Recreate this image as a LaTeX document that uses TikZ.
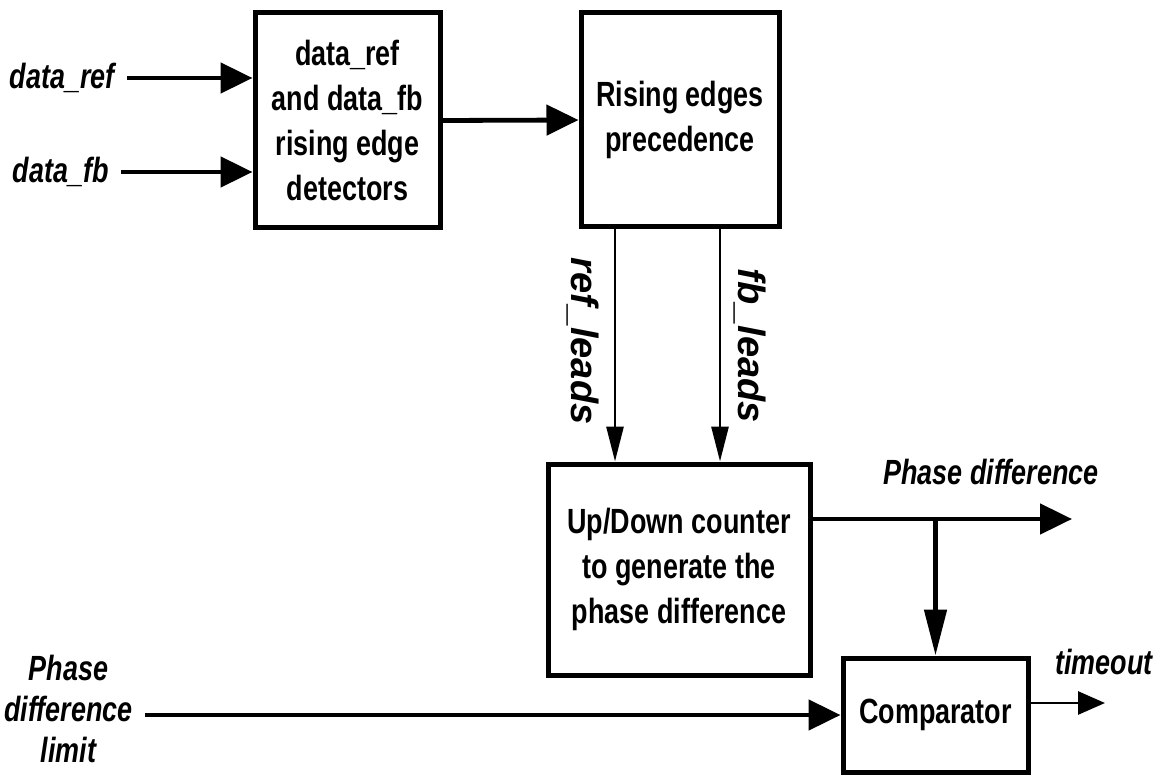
\documentclass[tikz,border=0pt]{standalone}
\usepackage{fontspec}
\setmainfont{Liberation Sans}[FakeStretch=0.77]
\newfontfamily\wideit{Liberation Sans}[FakeStretch=1.0]
\usetikzlibrary{arrows.meta}

\newcommand\blkfont{\fontsize{17.5pt}{22.5pt}\selectfont\bfseries}
\newcommand\lblfont{\fontsize{17.5pt}{20.5pt}\selectfont\bfseries\itshape}
\newcommand\flagfont{\wideit\fontsize{19pt}{22pt}\selectfont\bfseries\itshape}

\tikzset{
  blk/.style={draw, line width=2.5pt, align=center, font=\blkfont, inner sep=0pt},
  lbl/.style={font=\lblfont, align=center, inner sep=6pt},
  flag/.style={font=\flagfont, inner sep=0pt, rotate=-90},
  bus/.style={line width=2.4pt, -{Triangle[length=16pt,width=15pt]}},
  sig/.style={line width=1.4pt, -{Triangle[length=17.5pt,width=8.5pt]}},
  tap/.style={line width=2.4pt, -{Triangle[length=23pt,width=11pt]}},
  outsig/.style={line width=1.4pt, -{Triangle[length=13.5pt,width=11.5pt]}},
}

\begin{document}
\begin{tikzpicture}[x=0.5pt, y=-0.5pt]
  \useasboundingbox (0,0) rectangle (1166,775);

  % processing blocks
  \node[blk, minimum width=92.5pt, minimum height=107.5pt] (det) at (347.5,120.5)
    {data\_ref\\and data\_fb\\rising edge\\detectors};
  \node[blk, minimum width=99pt, minimum height=107pt] (prec) at (680,120)
    {Rising edges\\precedence};
  \node[blk, minimum width=131pt, minimum height=105.5pt] (cnt) at (679,569.5)
    {Up/Down counter\\to generate the\\phase difference};
  \node[blk, minimum width=92.5pt, minimum height=57pt] (cmp) at (935.5,715)
    {Comparator};

  % input labels
  \node[lbl, anchor=east] (inref) at (127,78) {data\_ref};
  \node[lbl, anchor=east] (infb) at (121,172) {data\_fb};
  \node[lbl, anchor=east] (lim) at (145,709) {Phase\\difference\\limit};

  % inputs to the edge detectors
  \draw[bus] (inref.east) -- (det.west |- inref.east);
  \draw[bus] (infb.east) -- (det.west |- infb.east);
  \draw[bus] (det.east) -- (prec.west);

  % precedence flags
  \coordinate (xr) at (615,0);
  \coordinate (xf) at (720,0);
  \draw[sig] (prec.south -| xr) -- (cnt.north -| xr);
  \draw[sig] (prec.south -| xf) -- (cnt.north -| xf);
  \node[flag] (lref) at (583,341) {ref\_leads};
  \node[flag] (lfb) at (750,346) {fb\_leads};

  % phase difference output and comparator
  \coordinate (pdout) at (1072,519);
  \draw[bus] (cnt.east |- pdout) -- (pdout);
  \node[lbl, inner sep=0pt] (pdlab) at (991,472) {Phase difference};
  \draw[tap] (cmp.north |- pdout) -- (cmp.north);
  \draw[bus] (lim.east |- cmp.west) -- (cmp.west);

  \coordinate (tout) at (1105,703);
  \draw[outsig] (cmp.east |- tout) -- (tout);
  \node[lbl, inner sep=0pt] (tolab) at (1104,662) {timeout};
\end{tikzpicture}
\end{document}
